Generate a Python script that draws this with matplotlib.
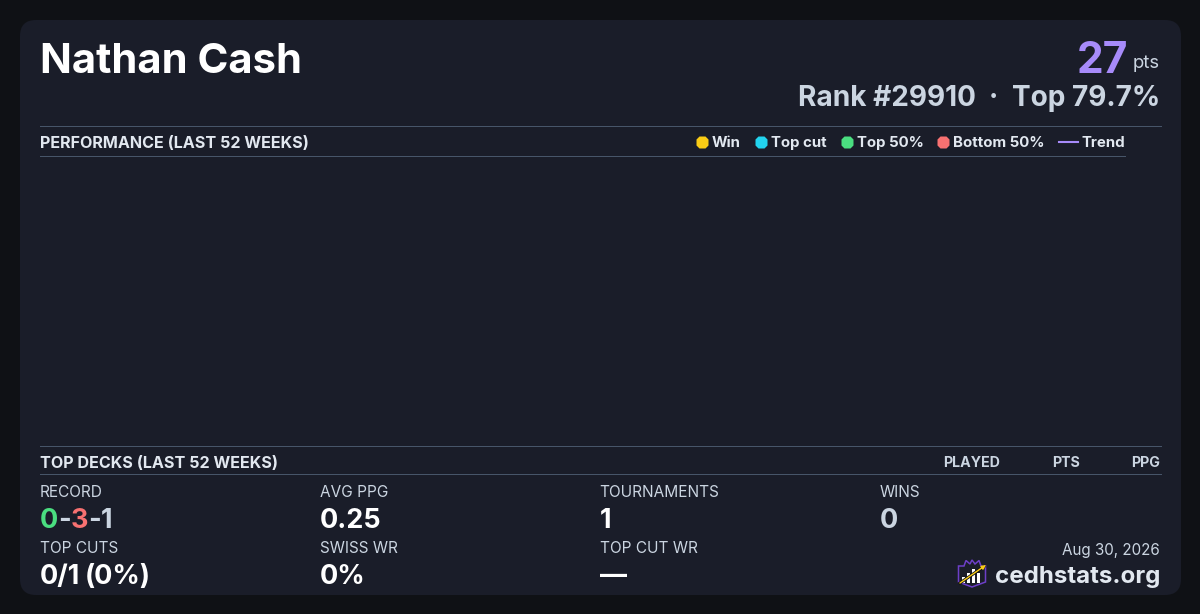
import matplotlib
matplotlib.use("Agg")
import matplotlib.pyplot as plt
from matplotlib.patches import FancyBboxPatch, Polygon, Rectangle

plt.rcParams['font.family'] = ['Inter', 'DejaVu Sans']

BG = "#0f1115"
CARD = "#1a1d29"
RULE = "#475569"
WHITE = "#ffffff"
LIGHT = "#e2e8f0"
MUTED = "#cbd5e1"
PURPLE = "#a78bfa"

player = "Nathan Cash"
points = "27"
rank_left = "Rank #29910"
rank_dot = "·"
rank_right = "Top 79.7%"
section_perf = "PERFORMANCE (LAST 52 WEEKS)"
section_decks = "TOP DECKS (LAST 52 WEEKS)"
deck_cols = ["PLAYED", "PTS", "PPG"]
deck_col_right = [1000, 1080, 1160]

legend_labels = ["Win", "Top cut", "Top 50%", "Bottom 50%"]
legend_colors = ["#facc15", "#22d3ee", "#4ade80", "#f87171"]
legend_dot_x = [702, 761, 847, 943]

stat_labels = ["AVG PPG", "TOURNAMENTS", "WINS", "TOP CUTS", "SWISS WR", "TOP CUT WR"]
stat_values = ["0.25", "1", "0", "0/1", "0%", "—"]
stat_x = [320, 599.5, 880, 40, 320, 600]
stat_label_y = [497, 497, 497, 553, 553, 553]
stat_value_y = [528, 528, 528, 584, 584, 584]
stat_colors = [WHITE, WHITE, MUTED, WHITE, WHITE, WHITE]
top_cut_pct = "(0%)"

record_parts = ["0", "-", "3", "-", "1"]
record_colors = ["#4ade80", MUTED, "#f87171", MUTED, MUTED]

logo_bars_x = [962, 967, 972, 977]
logo_bars_h = [6, 10, 14, 10]

fig = plt.figure(figsize=(12, 6.14), dpi=100, facecolor=BG)
ax = fig.add_axes([0, 0, 1, 1])
ax.set_xlim(0, 1200)
ax.set_ylim(614, 0)
ax.axis("off")


def put(x, y, s, size, color, weight="normal", ha="left"):
    # size is in css px, y is the baseline
    return ax.text(x, y, s, fontsize=size * 0.72, color=color, fontweight=weight,
                   ha=ha, va="baseline")


ax.add_patch(FancyBboxPatch((36, 36), 1129, 543, boxstyle="round,pad=16,rounding_size=16",
                            fc=CARD, ec="none"))

put(40, 73, player, 41.8, WHITE, "bold")
put(1160, 68, "pts", 18.5, MUTED, ha="right")
put(1128, 73, points, 42.5, PURPLE, "bold", ha="right")
put(798, 106, rank_left, 28, MUTED, "bold")
put(993, 106, rank_dot, 28, MUTED, "bold", ha="center")
put(1160, 106, rank_right, 28, MUTED, "bold", ha="right")

# header rules
ax.plot([40, 1160.5], [126, 126], color=RULE, lw=0.72)
ax.plot([40, 1124.5], [156, 156], color=RULE, lw=0.72)
ax.plot([40, 1160.5], [446, 446], color=RULE, lw=0.72)
ax.plot([40, 1160.5], [474, 474], color=RULE, lw=0.72)

put(40, 148, section_perf, 16.12, LIGHT, "bold")
put(40, 468, section_decks, 16.12, LIGHT, "bold")
for lab, xr in zip(deck_cols, deck_col_right):
    put(xr, 467, lab, 14.2, MUTED, "bold", ha="right")

# legend
for lab, col, x in zip(legend_labels, legend_colors, legend_dot_x):
    ax.plot([x], [142], "8", ms=9.5, color=col, mec="none")
    put(x + 10, 147, lab, 15, LIGHT, "bold")
ax.plot([1059, 1078], [141.5, 141.5], color=PURPLE, lw=1.5)
put(1081, 147, "Trend", 15, LIGHT, "bold")

# stats
put(40, 497, "RECORD", 15.4, MUTED)
x = 40
rend = fig.canvas.get_renderer()
for part, col in zip(record_parts, record_colors):
    t = put(x, 528, part, 27, col, "bold")
    x += t.get_window_extent(rend).width
for lab, val, sx, ly, vy, col in zip(stat_labels, stat_values, stat_x, stat_label_y,
                                     stat_value_y, stat_colors):
    put(sx, ly, lab, 15.4, MUTED)
    put(sx, vy, val, 27, col, "bold")
put(84.5, 584, top_cut_pct, 27, WHITE, "bold")

# footer
put(1160, 555, "Aug 30, 2026", 15.2, MUTED, ha="right")
put(1160, 583, "cedhstats.org", 24.1, LIGHT, "bold", ha="right")

# logo
ax.add_patch(Polygon([(958.5, 566), (964, 566), (966, 560.5), (970, 564), (972, 560), (975, 564),
                      (979, 560.5), (981, 566), (985.5, 566), (985.5, 582), (972, 587), (958.5, 582)],
                     closed=True, fc="none", ec="#6d3fc8", lw=1.1))
for bx, bh in zip(logo_bars_x, logo_bars_h):
    ax.add_patch(Rectangle((bx, 582.7 - bh), 3.2, bh, fc=WHITE, ec="none"))
ax.plot([960, 984], [583, 566.5], color="#111318", lw=2.2, zorder=4)
ax.annotate("", xy=(986, 565), xytext=(960, 583), zorder=5,
            arrowprops=dict(arrowstyle="-|>", color="#facc15", lw=1.0, mutation_scale=6,
                            shrinkA=0, shrinkB=0))

fig.savefig("out.png", dpi=100, facecolor=BG)
